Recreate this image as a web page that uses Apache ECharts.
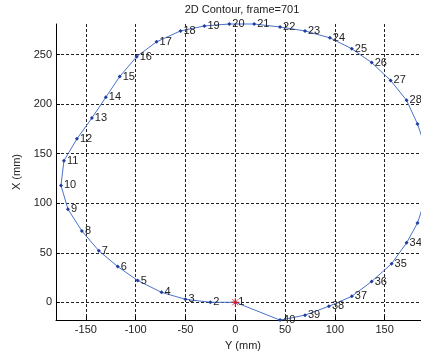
<!DOCTYPE html>
<html>
<head>
<meta charset="utf-8">
<script src="https://cdn.jsdelivr.net/npm/echarts@6/dist/echarts.min.js"></script>
<style>
  html, body { margin: 0; padding: 0; background: #fff; }
  #chart { width: 421px; height: 356px; }
</style>
</head>
<body>
<div id="chart"></div>
<script>
// contour points (horizontal = Y mm, vertical = X mm)
const yVals = [0, -25, -50, -74, -98, -118, -137, -154, -168, -175,
  -172, -159, -144, -130, -116, -99, -79, -55, -31, -6,
  19, 45, 70, 95, 117, 137, 156, 172, 183, 191,
  194, 191, 183, 172, 157, 137, 117, 94, 70, 45];
const xVals = [0, 0, 3, 10, 22, 36, 52, 72, 94, 118,
  143, 165, 186, 207, 228, 248, 263, 274, 279, 281,
  281, 278, 274, 267, 256, 242, 224, 204, 180, 156,
  131, 105, 80, 60, 39, 21, 6, -4, -13, -18];
const pointLabels = yVals.map((v, i) => String(i + 1));
const startPoint = [[0, 0]];

const xTicks = [-150, -100, -50, 0, 50, 100, 150];
const yTicks = [0, 50, 100, 150, 200, 250];

const chart = echarts.init(document.getElementById('chart'), null, { renderer: 'canvas' });

// close the contour: back to point 1
const contour = yVals.map((v, i) => [v, xVals[i]]);
contour.push([yVals[0], xVals[0]]);

const gridLine = { show: true, lineStyle: { color: '#222', type: [3, 2], width: 1 } };
const font = 'Liberation Sans, Arial, sans-serif';

chart.setOption({
  animation: false,
  title: {
    text: '2D Contour, frame=701',
    left: 242,
    top: 4,
    padding: 0,
    textAlign: 'center',
    textStyle: { fontSize: 11, fontWeight: 'normal', color: '#222', fontFamily: font }
  },
  grid: { left: 56, top: 24, width: 365, height: 298 },
  xAxis: {
    type: 'value',
    min: -180,
    max: 186.5,
    name: 'Y (mm)',
    nameLocation: 'middle',
    nameGap: 18,
    nameTextStyle: { fontSize: 11, color: '#222', fontFamily: font, padding: [0, 0, 0, 9] },
    axisLine: { show: true, onZero: false, lineStyle: { color: '#000', width: 1 } },
    axisTick: { show: true, inside: true, length: 4, customValues: xTicks, lineStyle: { color: '#000' } },
    axisLabel: { customValues: xTicks, fontSize: 11, color: '#222', fontFamily: font, margin: 4 },
    splitLine: gridLine
  },
  yAxis: {
    type: 'value',
    min: -18,
    max: 281,
    name: 'X (mm)',
    nameLocation: 'middle',
    nameGap: 29,
    nameTextStyle: { fontSize: 11, color: '#222', fontFamily: font },
    axisLine: { show: true, onZero: false, lineStyle: { color: '#000', width: 1 } },
    axisTick: { show: true, inside: true, length: 4, customValues: yTicks, lineStyle: { color: '#000' } },
    axisLabel: { customValues: yTicks, fontSize: 11, color: '#222', fontFamily: font, margin: 4 },
    splitLine: gridLine
  },
  series: [
    {
      type: 'line',
      data: contour,
      clip: false,
      symbol: 'diamond',
      symbolSize: 4,
      itemStyle: { color: '#1f3d9e' },
      lineStyle: { color: '#4a72c8', width: 1 },
      label: {
        show: true,
        position: 'right',
        distance: 1,
        fontSize: 11,
        color: '#222',
        fontFamily: font,
        formatter: (p) => (p.dataIndex < pointLabels.length ? pointLabels[p.dataIndex] : '')
      }
    },
    {
      type: 'scatter',
      data: startPoint,
      symbol: 'path://M0,-5L0,5M-5,0L5,0M-3.5,-3.5L3.5,3.5M-3.5,3.5L3.5,-3.5',
      symbolSize: 9,
      itemStyle: { color: 'transparent', borderColor: '#ff2020', borderWidth: 1 },
      z: 5
    }
  ]
});
</script>
</body>
</html>
